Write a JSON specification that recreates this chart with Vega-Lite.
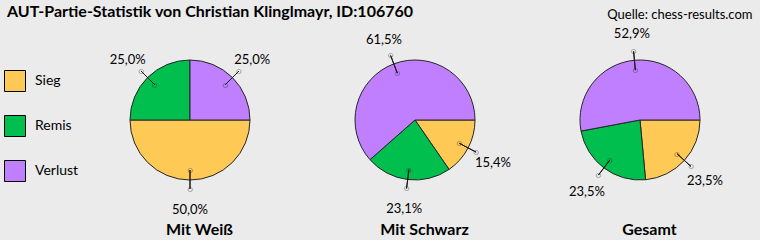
{
  "$schema": "https://vega.github.io/schema/vega-lite/v6.json",
  "width": 752,
  "height": 192,
  "autosize": {"type": "none"},
  "padding": {"left": 0, "top": 24, "right": 8, "bottom": 24},
  "background": "#ebebeb",
  "config": {
    "view": {"stroke": null},
    "font": "Lato",
    "locale": {"number": {"decimal": ",", "thousands": ".", "grouping": [3], "currency": ["", " €"]}}
  },
  "title": {
    "text": "AUT-Partie-Statistik von Christian Klinglmayr, ID:106760",
    "anchor": "start",
    "frame": "group",
    "fontSize": 16,
    "fontWeight": "bold",
    "font": "Lato",
    "color": "#000000",
    "baseline": "alphabetic",
    "offset": -25,
    "dx": 7
  },
  "data": {
    "values": [
      {"group": "Mit Weiß", "cat": "Sieg", "v": 0.500},
      {"group": "Mit Weiß", "cat": "Remis", "v": 0.250},
      {"group": "Mit Weiß", "cat": "Verlust", "v": 0.250},
      {"group": "Mit Schwarz", "cat": "Sieg", "v": 0.154},
      {"group": "Mit Schwarz", "cat": "Remis", "v": 0.231},
      {"group": "Mit Schwarz", "cat": "Verlust", "v": 0.615},
      {"group": "Gesamt", "cat": "Sieg", "v": 0.235},
      {"group": "Gesamt", "cat": "Remis", "v": 0.235},
      {"group": "Gesamt", "cat": "Verlust", "v": 0.529}
    ]
  },
  "transform": [
    {"stack": "v", "groupby": ["group"], "offset": "normalize", "as": ["s", "e"]},
    {"calculate": "(datum.s + datum.e) / 2", "as": "m"}
  ],
  "resolve": {"axis": {"x": "independent"}},
  "layer": [
    {
      "mark": {"type": "arc", "outerRadius": 60, "stroke": "#262626", "strokeWidth": 1},
      "encoding": {
        "x": {
          "field": "group", "type": "nominal",
          "sort": ["Mit Weiß", "Mit Schwarz", "Gesamt"],
          "scale": {"type": "point", "range": [190, 640], "padding": 0},
          "axis": {
            "orient": "bottom", "title": null, "domain": false, "ticks": false,
            "labelFontSize": 16, "labelFontWeight": "bold", "labelFont": "Lato",
            "labelColor": "#000000", "labelPadding": 5, "labelOffset": 9, "labelAngle": 0
          }
        },
        "theta": {"field": "s", "type": "quantitative", "scale": {"domain": [0, 1], "range": [1.5707963, 7.8539816]}},
        "theta2": {"field": "e"},
        "color": {
          "field": "cat", "type": "nominal",
          "scale": {"domain": ["Sieg", "Remis", "Verlust"], "range": ["#FFC955", "#00BF4F", "#BF7FFF"]},
          "legend": {
            "orient": "none", "legendX": 4, "legendY": 46, "title": null, "padding": 0,
            "symbolType": "square", "symbolSize": 441, "symbolStrokeColor": "#000000",
            "symbolStrokeWidth": 1, "symbolOpacity": 1,
            "labelFontSize": 14, "labelFont": "Lato", "labelColor": "#000000",
            "labelOffset": 9, "rowPadding": 19
          }
        }
      }
    },
    {
      "mark": {"type": "arc", "innerRadius": 50, "outerRadius": 69, "filled": false, "stroke": "#1a1a1a", "strokeWidth": 1},
      "encoding": {
        "x": {"field": "group", "type": "nominal", "sort": ["Mit Weiß", "Mit Schwarz", "Gesamt"], "axis": null},
        "theta": {"field": "m", "type": "quantitative"},
        "theta2": {"field": "m"}
      }
    },
    {
      "mark": {"type": "text", "text": "○", "font": "DejaVu Sans", "fontSize": 6, "color": "#1a1a1a", "align": "center", "baseline": "middle", "radius": 50},
      "encoding": {
        "x": {"field": "group", "type": "nominal", "sort": ["Mit Weiß", "Mit Schwarz", "Gesamt"], "axis": null},
        "theta": {"field": "m", "type": "quantitative"}
      }
    },
    {
      "mark": {"type": "text", "text": "○", "font": "DejaVu Sans", "fontSize": 6, "color": "#1a1a1a", "align": "center", "baseline": "middle", "radius": 69},
      "encoding": {
        "x": {"field": "group", "type": "nominal", "sort": ["Mit Weiß", "Mit Schwarz", "Gesamt"], "axis": null},
        "theta": {"field": "m", "type": "quantitative"}
      }
    },
    {
      "mark": {"type": "text", "font": "Lato", "fontSize": 13, "color": "#000000", "align": "center", "baseline": "middle", "radius": 88, "dy": 2},
      "encoding": {
        "x": {
          "field": "group", "type": "nominal", "sort": ["Mit Weiß", "Mit Schwarz", "Gesamt"],
          "axis": {
            "orient": "top", "title": "Quelle: chess-results.com", "titleX": 752, "titleAlign": "right",
            "titleFontSize": 13, "titleFontWeight": "normal", "titleFont": "Lato",
            "titleColor": "#000000", "titleBaseline": "alphabetic", "titlePadding": 6,
            "labels": false, "ticks": false, "domain": false
          }
        },
        "theta": {"field": "m", "type": "quantitative"},
        "text": {"field": "v", "type": "quantitative", "format": ".1%"}
      }
    }
  ]
}
